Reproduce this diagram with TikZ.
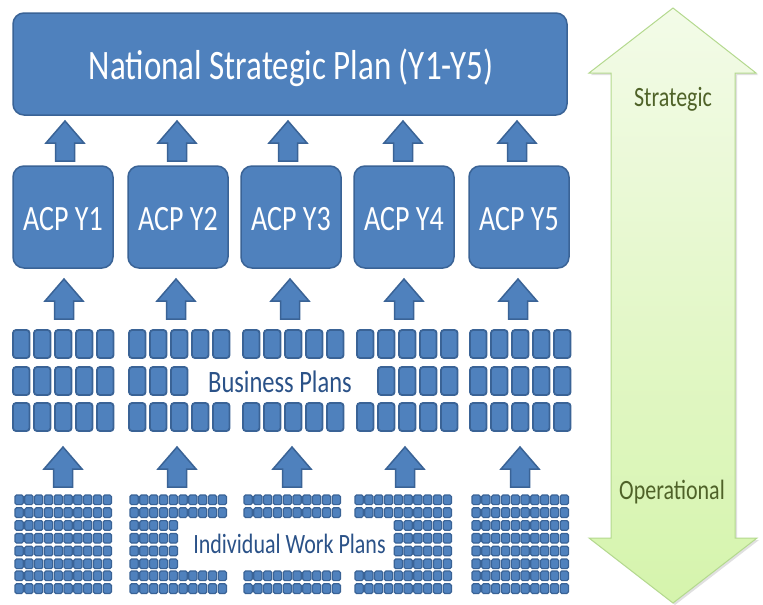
\documentclass[tikz,border=0pt]{standalone}
\usepackage{fontspec}
\setmainfont{Carlito}
\usepackage{graphicx}
\definecolor{accblue}{HTML}{4F81BD}
\definecolor{accedge}{HTML}{3A6396}
\definecolor{txtblue}{HTML}{2B5288}
\definecolor{txtgreen}{HTML}{4F6228}
\definecolor{arrtop}{HTML}{F3FBE8}
\definecolor{arrbot}{HTML}{D5F4AC}
\definecolor{arredge}{HTML}{B4D98E}
\newcommand\vs[1]{\scalebox{1}[1.27]{#1}}
\newcommand\bprow[3]{\foreach \c in {#3}{\draw[bprect] ({#1+\c*21},#2) rectangle ++(16.5,28);}}
\newcommand\iwrow[3]{\foreach \c in {#3}{\draw[iwsq] ({#1+\c*9.8},#2) rectangle ++(8.2,9.6);}}
\begin{document}
\begin{tikzpicture}[x=1pt,y=-1pt,
  bluebox/.style={draw=accedge, fill=accblue, line width=1.5pt, rounded corners=11pt, inner sep=0pt},
  boxtext/.style={text=white, anchor=base},
  barrow/.style={draw=accedge, fill=accblue, line width=1.5pt, line join=miter},
  bprect/.style={draw=accedge, fill=accblue, line width=1.8pt, rounded corners=3pt},
  iwsq/.style={draw=accedge, fill=accblue, line width=1.2pt, rounded corners=1.5pt},
  bluetext/.style={text=txtblue, anchor=base},
  greentext/.style={text=txtgreen, anchor=base, font=\fontsize{22}{24}\selectfont},
  blockarrow/.pic={\path[barrow] (0,0) -- (19,22) -- (9.5,22) -- (9.5,40) -- (-9.5,40) -- (-9.5,22) -- (-19,22) -- cycle;}
]
\useasboundingbox (0,0) rectangle (763,605);
\fill[white] (0,0) rectangle (763,605);

% double arrow strategic/operational (faint shadow, then arrow)
\fill[black!12]
  (675,10) -- (758,75) -- (737,75) -- (737,540) -- (759,540) -- (675,605)
  -- (591,540) -- (613,540) -- (613,75) -- (591,75) -- cycle;
\path[draw=arredge, line width=1pt, top color=arrtop, bottom color=arrbot, line join=miter]
  (673,8) -- (756,73) -- (735,73) -- (735,538) -- (757,538) -- (673,603)
  -- (589,538) -- (611,538) -- (611,73) -- (589,73) -- cycle;
\node[greentext] (strat) at (673,106) {\vs{Strategic}};
\node[greentext] (oper) at (672,499) {\vs{Operational}};

% national strategic plan
\path[bluebox] (13,13) rectangle (567,115);
\node[boxtext, font=\fontsize{33}{36}\selectfont] (nsp) at (291,79) {\vs{National Strategic Plan (Y1-Y5)}};

% ACP boxes
\foreach \x/\t [count=\i] in {13/ACP Y1,128/ACP Y2,241/ACP Y3,354/ACP Y4,469/ACP Y5}{
  \path[bluebox] (\x,166) rectangle ++(100,102);
  \node[boxtext, font=\fontsize{28}{30}\selectfont] (acp\i) at ({\x+50},230) {\vs{\t}};
}

% arrows ACP -> NSP
\foreach \x in {65,177,288,403,517}{\pic at (\x,121) {blockarrow};}
% arrows BP -> ACP
\foreach \x in {64,176,290,404,518}{\pic at (\x,279) {blockarrow};}
% arrows IWP -> BP
\foreach \x in {63,177,292,405,520}{\pic at (\x,447) {blockarrow};}

% business plans
\foreach \gx in {13,129,243,357,470}{
  \bprow{\gx}{330}{0,...,4}
  \bprow{\gx}{403}{0,...,4}
}
\bprow{13}{367}{0,...,4}
\bprow{129}{367}{0,1,2}
\bprow{357}{367}{1,...,4}
\bprow{470}{367}{0,...,4}
\node[bluetext, font=\fontsize{24.5}{27}\selectfont] (bp) at (280,392) {\vs{Business Plans}};

% individual work plans
\foreach \gx in {15,130,244,355,472}{
  \foreach \ry in {495,507.8,571,583.8}{\iwrow{\gx}{\ry}{0,...,9}}
}
\foreach \ry in {520.6,533.4,546.2,559}{
  \iwrow{15}{\ry}{0,...,9}
  \iwrow{130}{\ry}{0,...,4}
  \iwrow{355}{\ry}{4,...,9}
  \iwrow{472}{\ry}{0,...,9}
}
\node[bluetext, font=\fontsize{22}{24}\selectfont] (iwp) at (289.5,553) {\vs{Individual Work Plans}};
\end{tikzpicture}
\end{document}
